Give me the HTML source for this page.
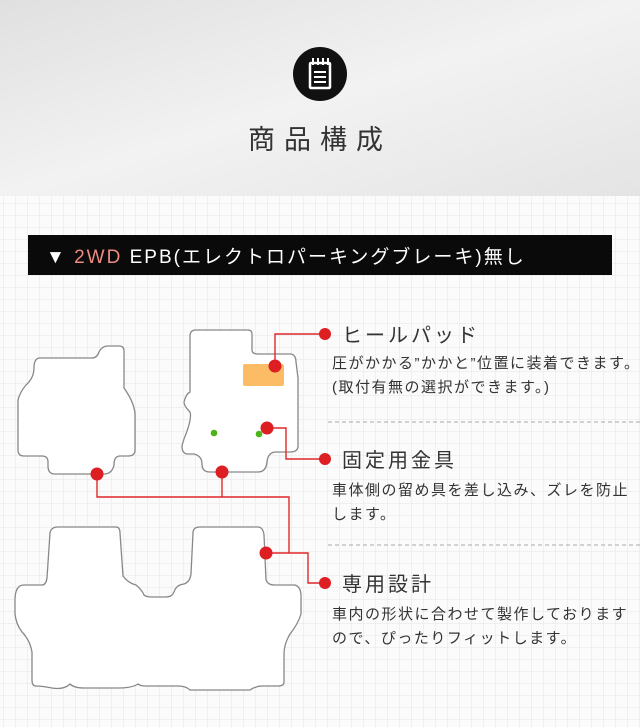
<!DOCTYPE html>
<html><head><meta charset="utf-8"><style>
html,body{margin:0;padding:0;width:640px;height:727px;overflow:hidden;background:#fff}
text{font-family:"Liberation Sans","Noto Sans CJK JP",sans-serif}
</style></head><body>
<svg width="640" height="727" xmlns="http://www.w3.org/2000/svg">
<defs>
<pattern id="g" width="12" height="12" patternUnits="userSpaceOnUse" x="4" y="0">
<path d="M12 0V12M0 12H12" fill="none" stroke="#e6e6e6" stroke-width="1"/>
</pattern>
<linearGradient id="hd" x1="0" y1="0" x2="1" y2="1">
<stop offset="0" stop-color="#e0e0e0"/><stop offset="0.5" stop-color="#f2f2f2"/><stop offset="1" stop-color="#e4e4e4"/>
</linearGradient>
</defs>
<rect width="640" height="727" fill="#fbfbfb"/>
<rect width="640" height="727" fill="url(#g)"/>
<rect width="640" height="196" fill="url(#hd)"/>
<circle cx="320" cy="74" r="27" fill="#111"/>
<rect x="310" y="63" width="20" height="25" rx="1" fill="none" stroke="#fff" stroke-width="2.5"/>
<path d="M313 58v7M318 58v7M323 58v7M328 58v7M314 72h12M314 77h12M314 82h12" stroke="#fff" stroke-width="2"/>
<text x="320" y="149" font-size="27" fill="#333" text-anchor="middle" letter-spacing="9">商品構成</text>
<rect x="28" y="235" width="584" height="40" fill="#0a0a0a"/>
<text x="46" y="263" font-size="19" fill="#fff" letter-spacing="2">▼ <tspan fill="#f08a80">2WD</tspan> EPB(エレクトロパーキングブレーキ)無し</text>
<g fill="#fff" stroke="#888" stroke-width="1.3">
<path d="M40 358 H92 Q97 358 99 352 Q102 346 108 346 H119 Q124 346 124 351 V388 Q136 405 135 418 V450 Q135 456 128 456 H120 Q114 456 114 465 Q112 474 104 474 H55 Q48 474 48 466 V462 Q48 456 42 456 H24 Q18 456 18 450 V400 Q20 392 26 385 Q34 378 34 368 Q34 358 40 358Z"/>
<path d="M196 330 H248 Q252 330 252 334 V350 Q252 354 258 354 H291 Q296 355 296 362 L298 378 V446 Q298 452 290 452 H276 Q268 452 267 462 Q266 472 258 472 H210 Q202 472 202 464 Q202 456 194 454 H188 Q182 454 182 446 Q184 438 186 434 Q192 418 190 412 Q184 406 184 402 Q186 394 190 392 V336 Q190 330 196 330Z"/>
<path d="M58 527 H116 Q120 527 120 533 L123 576 Q128 583 136 585 Q142 590 144 595 Q146 597 152 597 H166 Q172 597 174 592 Q176 585 184 584 Q190 582 191 574 L193 533 Q193 527 200 527 H258 Q263 527 264 535 L266 580 Q268 585 274 585 H295 Q301 587 301 596 V614 Q298 624 290 634 Q284 644 284 654 V682 Q284 686 278 686 H262 Q256 686 250 690 H190 Q186 686 178 686 H146 Q140 686 138 684 Q132 688 118 688 H84 Q74 688 70 684 Q64 690 52 688 Q42 686 36 686 Q32 686 32 680 V652 Q30 640 22 632 Q16 624 15 614 V600 Q15 585 24 585 H42 Q46 585 47 578 L50 533 Q51 527 58 527Z"/>
</g>
<rect x="243" y="364" width="41" height="22" rx="2" fill="#fcbc66"/>
<circle cx="214" cy="433" r="3.3" fill="#4bb516"/>
<circle cx="259" cy="434" r="3.3" fill="#4bb516"/>
<g fill="none" stroke="#e0282a" stroke-width="1.4">
<path d="M275 366 V334 H325"/>
<path d="M267 428 H286 V459 H325"/>
<path d="M97 474 V497 H289 V553 M222 472 V497"/>
<path d="M266 553 H308 V583 H325"/>
</g>
<g fill="#dd1f24">
<circle cx="275" cy="366" r="6.5"/><circle cx="267" cy="428" r="6.5"/>
<circle cx="97" cy="474" r="6.5"/><circle cx="222" cy="472" r="6.5"/>
<circle cx="266" cy="553" r="6.5"/>
<circle cx="325" cy="334" r="6"/><circle cx="325" cy="459" r="6"/><circle cx="325" cy="583" r="6"/>
</g>
<g fill="#333">
<text x="342" y="342" font-size="20" letter-spacing="3">ヒールパッド</text>
<text x="332" y="368" font-size="15" letter-spacing="1.5">圧がかかる”かかと”位置に装着できます。</text>
<text x="332" y="392" font-size="15" letter-spacing="1.5">(取付有無の選択ができます。)</text>
<text x="342" y="467" font-size="20" letter-spacing="3">固定用金具</text>
<text x="332" y="495" font-size="15" letter-spacing="1.5">車体側の留め具を差し込み、ズレを防止</text>
<text x="332" y="519" font-size="15" letter-spacing="1.5">します。</text>
<text x="342" y="591" font-size="20" letter-spacing="3">専用設計</text>
<text x="332" y="619" font-size="15" letter-spacing="1.5">車内の形状に合わせて製作しております</text>
<text x="332" y="643" font-size="15" letter-spacing="1.5">ので、ぴったりフィットします。</text>
</g>
<path d="M328 422H640M328 545H640" stroke="#aaa" stroke-width="1" stroke-dasharray="4 3"/>
</svg>
</body></html>
